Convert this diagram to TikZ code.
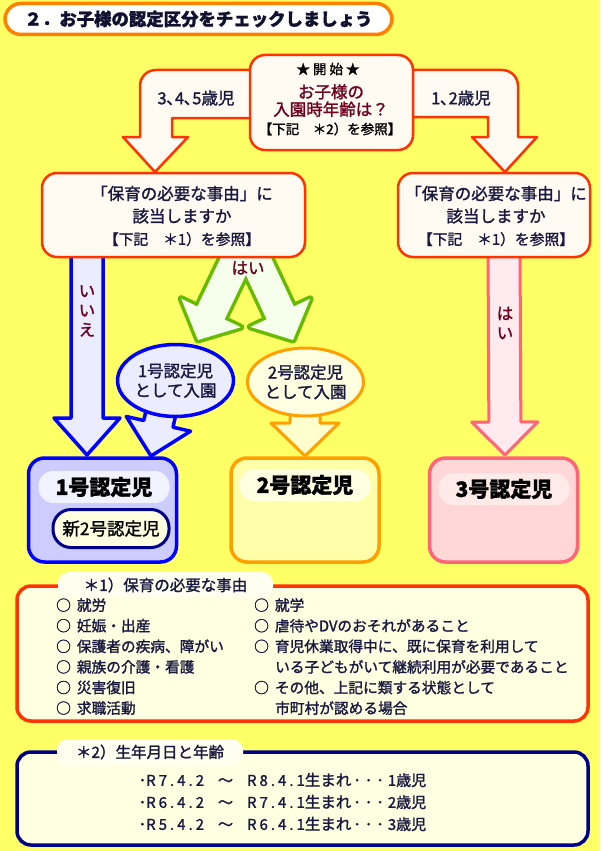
\documentclass[tikz,border=0pt]{standalone}
\usepackage{fontspec}
\setmainfont{Noto Sans CJK JP}[FakeBold=1.5]
\definecolor{bgyellow}{RGB}{255,255,102}
\definecolor{titleorange}{RGB}{255,128,0}
\definecolor{titletext}{RGB}{16,16,48}
\definecolor{startred}{RGB}{255,51,0}
\definecolor{startfill}{RGB}{255,250,242}
\definecolor{qtext}{RGB}{24,24,64}
\definecolor{wine}{RGB}{110,0,32}
\definecolor{kblue}{RGB}{0,0,255}
\definecolor{knavy}{RGB}{0,0,140}
\definecolor{kgreen}{RGB}{102,187,0}
\definecolor{korange}{RGB}{255,160,0}
\definecolor{kpink}{RGB}{255,100,120}
\definecolor{bluefill}{RGB}{236,236,255}
\definecolor{greenfill}{RGB}{245,255,236}
\definecolor{pinkfill}{RGB}{255,234,240}
\definecolor{orangefill}{RGB}{255,255,205}
\definecolor{k1fill}{RGB}{204,204,255}
\definecolor{k1pill}{RGB}{242,242,255}
\definecolor{k2fill}{RGB}{255,255,170}
\definecolor{k2pill}{RGB}{255,255,225}
\definecolor{k3fill}{RGB}{255,215,215}
\definecolor{k3pill}{RGB}{255,234,234}
\definecolor{notecream}{RGB}{255,255,225}
\definecolor{tabfill}{RGB}{255,255,240}
\usetikzlibrary{shapes.geometric, calc, positioning}

% fat block arrow: options, tail, tip, half shaft, half head, head length
\newcommand{\fatarrow}[6]{%
  \coordinate (fa-b) at ($(#3)!#6!(#2)$);
  \path[#1] ($(#2)!#4!90:(#3)$) -- ($(fa-b)!#4!90:(#3)$) -- ($(fa-b)!#5!90:(#3)$)
    -- (#3) -- ($(fa-b)!#5!-90:(#3)$) -- ($(fa-b)!#4!-90:(#3)$) -- ($(#2)!#4!-90:(#3)$);
}
\newcommand{\maru}{○\hspace{6pt}}
\newcommand{\ymd}[3]{R\kern3pt#1\kern3pt.\kern3pt#2\kern3pt.\kern3pt#3}

\begin{document}
\begin{tikzpicture}[x=1pt, y=-1pt,
  every node/.style={inner sep=0pt},
  qbox/.style={draw=startred, line width=2.5pt, fill=startfill, rounded corners=15pt},
  qtxt/.style={text=qtext, align=center, font=\fontsize{16.5}{22.5}\selectfont},
  bent/.style={draw=startred, line width=2.5pt, fill=startfill, line join=round},
  kbox/.style={line width=3.5pt, rounded corners=16pt, minimum width=148pt, minimum height=104pt},
  kpill/.style={rounded corners=15pt, minimum width=131pt, minimum height=32pt, font=\fontsize{21}{22}\selectfont\bfseries, text=black},
  lbl/.style={text=wine, font=\fontsize{16.5}{19.5}\selectfont, align=center},
  note/.style={line width=3.5pt, fill=notecream, rounded corners=14pt, minimum width=571pt},
  notetab/.style={fill=tabfill, rounded corners=11pt, minimum height=26pt, text=qtext, font=\fontsize{15.5}{17}\selectfont},
  itemtxt/.style={text=qtext, font=\fontsize{14.7}{16}\selectfont, anchor=west}]

\fill[bgyellow] (0,0) rectangle (600,851);
\useasboundingbox (0,0) rectangle (600,851);

% title
\node[draw=titleorange, line width=3.5pt, fill=white, rounded corners=16pt, minimum width=387pt, minimum height=31pt,
  font=\fontsize{17.4}{18}\selectfont\bfseries, text=titletext] (title) at (198.5,19) {２．お子様の認定区分をチェックしましょう};

% answer arrows below the questions
\coordinate (iieTail) at (87,245);  \coordinate (iieTip) at (87,455);
\coordinate (haiTail) at (246,240); \coordinate (haiTipL) at (198,340); \coordinate (haiTipR) at (293,340);
\coordinate (yesTail) at (504,245); \coordinate (yesTip) at (505,455);
\fatarrow{draw=kblue, line width=3.5pt, fill=bluefill, line join=round}{iieTail}{iieTip}{16pt}{33pt}{37pt}
\foreach \t in {haiTipL,haiTipR}{
  \fatarrow{draw=kgreen, line width=7pt, fill=greenfill, line join=round}{haiTail}{\t}{15pt}{33pt}{30pt}
}
\foreach \t in {haiTipL,haiTipR}{
  \fatarrow{fill=greenfill}{haiTail}{\t}{15pt}{33pt}{30pt}
}
\fatarrow{draw=kpink, line width=3pt, fill=pinkfill, line join=round}{yesTail}{yesTip}{16pt}{33pt}{33pt}

% questions
\node[qbox, minimum width=263pt, minimum height=84pt] (qleft) at (173.5,215) {};
\node[qtxt] (qlefttxt) at (182,216) {「保育の必要な事由」に\\該当しますか\\{\fontsize{14.8}{16}\selectfont【下記　＊1）を参照】}};
\node[qbox, minimum width=192pt, minimum height=84pt] (qright) at (494,215) {};
\node[qtxt] (qrighttxt) at (496,216) {「保育の必要な事由」に\\該当しますか\\{\fontsize{14.8}{16}\selectfont【下記　＊1）を参照】}};

% age arrows and start
\draw[bent] (252,70) -- (156,70) .. controls (147,70) and (140,77) .. (140,86) -- (140,137) -- (123,137)
  -- (155,172) -- (188,137) -- (172,137) -- (172,118) -- (252,118);
\draw[bent] (410,70) -- (502,70) .. controls (511,70) and (518,77) .. (518,86) -- (518,137) -- (537,137)
  -- (505,172) -- (472,137) -- (488,137) -- (488,117) -- (410,117);
\node[text=qtext, font=\fontsize{16.5}{18}\selectfont] (age345) at (196,98) {3､4､5歳児};
\node[text=qtext, font=\fontsize{16.5}{18}\selectfont] (age12) at (461,98) {1､2歳児};
\node[qbox, minimum width=163pt, minimum height=95pt] (start) at (331.5,102.5) {};
\node[font=\fontsize{13.5}{15}\selectfont] (starthd) at (328,69) {★ 開 始 ★};
\node[align=center, text=wine, font=\fontsize{16.5}{17.5}\selectfont] (startq) at (331,100.5) {お子様の\\入園時年齢は？};
\node[font=\fontsize{13.5}{15}\selectfont] (startref) at (330,129) {【下記　＊2）を参照】};

% enrolment ellipses
\coordinate (e1Tail) at (165,395); \coordinate (e1Tip) at (151,456);
\coordinate (e2Tail) at (305,400); \coordinate (e2Tip) at (305,456);
\fatarrow{draw=kblue, line width=3.5pt, fill=bluefill, line join=round}{e1Tail}{e1Tip}{15pt}{33pt}{33pt}
\fatarrow{draw=korange, line width=3pt, fill=orangefill, line join=round}{e2Tail}{e2Tip}{15pt}{34pt}{33pt}
\node[ellipse, draw=kblue, line width=3.5pt, fill=bluefill, minimum width=112pt, minimum height=72pt,
  align=center, text=qtext, font=\fontsize{16.5}{19.5}\selectfont] (ent1) at (175.5,380.5) {1号認定児\\として入園};
\node[ellipse, draw=korange, line width=3pt, fill=orangefill!60!white, minimum width=102pt, minimum height=68pt,
  align=center, text=qtext, font=\fontsize{16.5}{19.5}\selectfont] (ent2) at (305.5,382) {2号認定児\\として入園};

% answer labels
\node[lbl] (iie) at (87,311) {い\\い\\え};
\node[lbl] (haiL) at (248,268) {はい};
\node[lbl] (haiR) at (505,323) {は\\い};

% certification boxes
\node[kbox, draw=kblue, fill=k1fill] (k1) at (102.5,510) {};
\node[kpill, fill=k1pill] (k1lbl) at (104,487) {1号認定児};
\node[draw=knavy, line width=3pt, fill=notecream, rounded corners=18pt, minimum width=116pt, minimum height=38pt,
  font=\fontsize{17.5}{18}\selectfont] (k1new) at (111,528.5) {新2号認定児};
\node[kbox, draw=korange, fill=k2fill] (k2) at (305,510) {};
\node[kpill, fill=k2pill] (k2lbl) at (305,485) {2号認定児};
\node[kbox, draw=kpink, fill=k3fill] (k3) at (503.5,510) {};
\node[kpill, fill=k3pill] (k3lbl) at (504,489) {3号認定児};

% note 1
\node[note, draw=startred, minimum height=135pt] (note1) at (302.5,653.5) {};
\node[notetab, minimum width=215pt] (note1tab) at (165.5,585) {＊1）保育の必要な事由};
\foreach \txt [count=\i] in {就労, 妊娠・出産, 保護者の疾病、障がい, 親族の介護・看護, 災害復旧, 求職活動}
  \node[itemtxt] (reasonL\i) at (56,584.5+20.6*\i) {\maru\txt};
\foreach \xx/\txt [count=\i] in {254/\maru 就学, 254/\maru 虐待やDVのおそれがあること,
    254/\maru 育児休業取得中に、既に保育を利用して, 275/いる子どもがいて継続利用が必要であること,
    254/\maru その他、上記に類する状態として, 275/市町村が認める場合}
  \node[itemtxt] (reasonR\i) at (\xx,584.5+20.6*\i) {\txt};

% note 2
\node[note, draw=knavy, minimum height=93pt] (note2) at (302.5,798.5) {};
\node[notetab, minimum width=186pt] (note2tab) at (150,752) {＊2）生年月日と年齢};
\foreach \a/\b/\c [count=\i] in {7/8/1, 6/7/2, 5/6/3}
  \node[itemtxt, font=\fontsize{15}{16}\selectfont] (birth\i) at (138.5,758+22*\i)
    {･\ymd{\a}{4}{2}\hspace{14pt}～\hspace{14pt}\ymd{\b}{4}{1}{\fontsize{15.5}{16}\selectfont 生まれ}\kern2pt･\kern4pt･\kern4pt･\kern4pt\c{\fontsize{15}{16}\selectfont 歳児}};
\end{tikzpicture}
\end{document}
